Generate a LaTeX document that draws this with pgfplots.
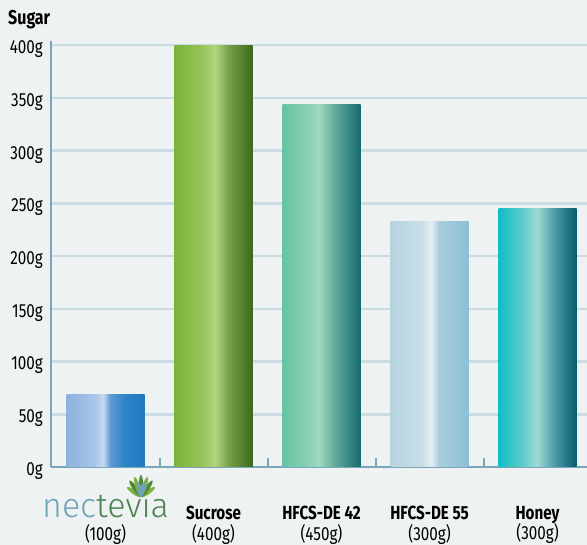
\documentclass[border=0pt]{standalone}
\usepackage{pgfplots}
\pgfplotsset{compat=1.18}
\usepackage{fontspec}
\setmainfont{Fira Sans}[FakeStretch=0.8]
\newfontfamily\logofont{Fira Sans Light}

\definecolor{bgc}{HTML}{EEF2F2}
\definecolor{axc}{HTML}{7AA6B9}
\definecolor{gridc}{HTML}{C9DCE3}
\definecolor{logob}{HTML}{6EA3B8}
\definecolor{logog}{HTML}{4E8352}
\definecolor{leafg}{HTML}{7FB241}
\definecolor{leafd}{HTML}{4F8A3A}

\definecolor{nA}{HTML}{8BB2DF}\definecolor{nB}{HTML}{A8C6E8}\definecolor{nC}{HTML}{C6DAEF}
\definecolor{nD}{HTML}{5D9BD3}\definecolor{nE}{HTML}{2C84C6}\definecolor{nF}{HTML}{1E7BBF}
\definecolor{sA}{HTML}{7BB23A}\definecolor{sB}{HTML}{98C45A}\definecolor{sC}{HTML}{B2D57E}
\definecolor{sD}{HTML}{7BA24C}\definecolor{sE}{HTML}{3A6A1E}
\definecolor{hA}{HTML}{66C4A2}\definecolor{hB}{HTML}{86D1B3}\definecolor{hC}{HTML}{9FD8BD}
\definecolor{hD}{HTML}{5FA89C}\definecolor{hE}{HTML}{146A6B}
\definecolor{kA}{HTML}{B6D3DE}\definecolor{kB}{HTML}{C8DFE6}\definecolor{kC}{HTML}{E3EFF3}
\definecolor{kD}{HTML}{A9CDDD}\definecolor{kE}{HTML}{8CBFD6}
\definecolor{yA}{HTML}{10BEC7}\definecolor{yB}{HTML}{5CCBCB}\definecolor{yC}{HTML}{9DD9D3}
\definecolor{yD}{HTML}{4C9AA6}\definecolor{yE}{HTML}{07596F}

\pgfdeclarehorizontalshading{shN}{100bp}{color(0bp)=(nA); color(25bp)=(nA); color(43bp)=(nB); color(48.5bp)=(nC); color(53bp)=(nD); color(62bp)=(nE); color(75bp)=(nF); color(100bp)=(nF)}
\pgfdeclarehorizontalshading{shS}{100bp}{color(0bp)=(sA); color(25bp)=(sA); color(42.5bp)=(sB); color(51bp)=(sC); color(59bp)=(sD); color(75bp)=(sE); color(100bp)=(sE)}
\pgfdeclarehorizontalshading{shH}{100bp}{color(0bp)=(hA); color(25bp)=(hA); color(40bp)=(hB); color(48.5bp)=(hC); color(59bp)=(hD); color(75bp)=(hE); color(100bp)=(hE)}
\pgfdeclarehorizontalshading{shK}{100bp}{color(0bp)=(kA); color(25bp)=(kA); color(45bp)=(kB); color(51bp)=(kC); color(56bp)=(kD); color(75bp)=(kE); color(100bp)=(kE)}
\pgfdeclarehorizontalshading{shY}{100bp}{color(0bp)=(yA); color(25bp)=(yA); color(40bp)=(yB); color(49.5bp)=(yC); color(61bp)=(yD); color(75bp)=(yE); color(100bp)=(yE)}

\newcommand\logo{{\logofont\mdseries\fontsize{34}{34}\selectfont\color{logob}nec\color{logog}tevia}}
\newcommand\lab[2]{\textbf{#1}\\#2}

\begin{document}
\begin{tikzpicture}
\fill[bgc] (-51pt,-78pt) rectangle (536pt,467pt);
\useasboundingbox (-51pt,-78pt) rectangle (536pt,467pt);
\begin{axis}[
  at={(0pt,0pt)}, anchor=south west,
  scale only axis, width=536pt, height=426pt,
  xmin=-0.505, xmax=4.458, ymin=0, ymax=404,
  axis x line*=bottom, axis y line*=left,
  axis line style={draw=axc, line width=2.5pt, -},
  xtick={0,1,2,3,4},
  xticklabels={{\vphantom{S}\smash{\raisebox{2.5pt}{\logo}}\\(100g)},{\lab{Sucrose}{(400g)}},{\lab{HFCS-DE 42}{(450g)}},{\lab{HFCS-DE 55}{(300g)}},{\lab{Honey}{(300g)}}},
  xticklabel style={anchor=north, align=center, inner sep=0pt, yshift=-39pt, font=\fontsize{19}{20.5}\selectfont},
  major x tick style={draw=none},
  minor xtick={0.5,1.5,2.5,3.5},
  minor tick length=9pt, tick align=inside,
  minor x tick style={draw=axc, line width=2pt},
  ytick={0,50,...,400}, major tick length=0pt,
  ymajorgrids, major grid style={draw=gridc, line width=2.5pt},
  /pgf/number format/assume math mode=true,
  yticklabel={\pgfmathprintnumber{\tick}g},
  yticklabel style={anchor=east, inner sep=0pt, xshift=-8pt, yshift=-4pt, font=\fontsize{19}{23}\selectfont},
]
\addplot[ybar, bar width=78pt, draw=none, shade, shading=shN] coordinates {(0,69)};
\addplot[ybar, bar width=78pt, draw=none, shade, shading=shS] coordinates {(1,400)};
\addplot[ybar, bar width=78pt, draw=none, shade, shading=shH] coordinates {(2,344)};
\addplot[ybar, bar width=78pt, draw=none, shade, shading=shK] coordinates {(3,233)};
\addplot[ybar, bar width=78pt, draw=none, shade, shading=shY] coordinates {(4,245)};
\end{axis}
\node[anchor=base west, inner sep=0pt, font=\bfseries\fontsize{20}{24}\selectfont] at (-43pt,442pt) {Sugar};
% logo leaves
\begin{scope}[shift={(90pt,-30pt)}]
\foreach \a/\l/\c in {35/17/leafg,145/17/leafg,55/20/leafd,125/20/leafd,72/21/leafg,108/21/leafg,90/22/leafd,78/15/logob,102/15/logob}{
  \fill[\c, rotate=\a-90] (0,\l pt/2) ellipse (2.2pt and \l pt/2);
}
\end{scope}
\end{tikzpicture}
\end{document}
